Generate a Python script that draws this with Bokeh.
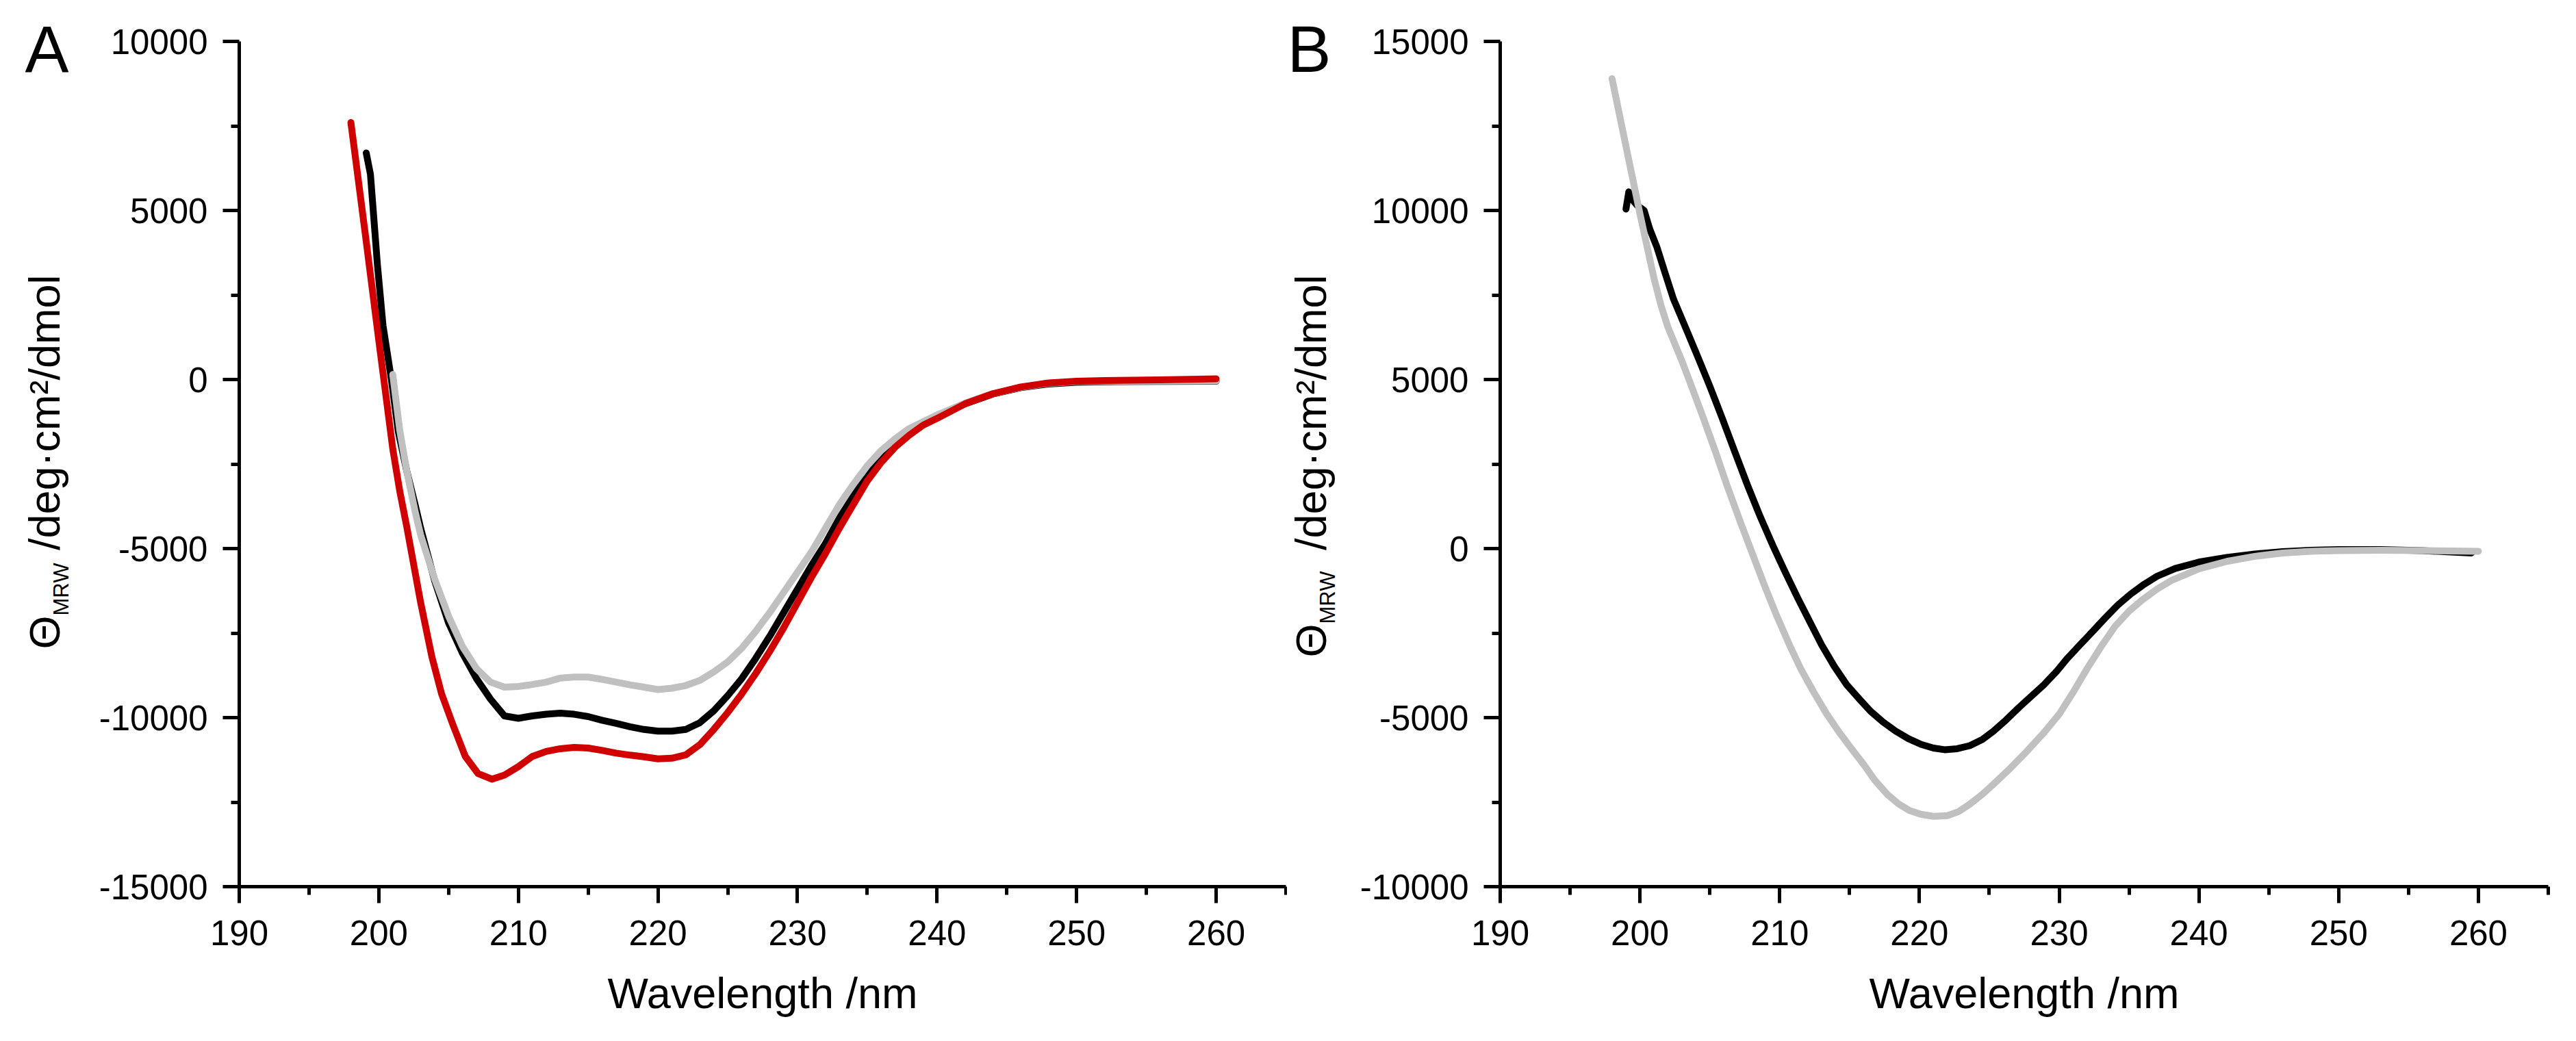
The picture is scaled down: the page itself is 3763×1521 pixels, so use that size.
from bokeh.plotting import figure
from bokeh.models import ColumnDataSource, FixedTicker, Label
from bokeh.layouts import row
from bokeh.embed import file_html
from bokeh.resources import INLINE

# ---------------- data ----------------
x_ticks = [190, 200, 210, 220, 230, 240, 250, 260]
x_minor = [195, 205, 215, 225, 235, 245, 255, 265]

a_y_ticks = [-15000, -10000, -5000, 0, 5000, 10000]
a_y_labels = ["-15000", "-10000", "-5000", "0", "5000", "10000"]
a_y_minor = [-12500, -7500, -2500, 2500, 7500]

b_y_ticks = [-10000, -5000, 0, 5000, 10000, 15000]
b_y_labels = ["-10000", "-5000", "0", "5000", "10000", "15000"]
b_y_minor = [-7500, -2500, 2500, 7500, 12500]

x_title = "Wavelength /nm"
y_title_symbol = "\u0398"
y_title_sub = "MRW"
y_title_unit = "/deg\u00b7cm\u00b2/dmol"

# Panel A
a_black_x = [199.1, 199.4, 199.9, 200.3, 200.9, 201.4, 202.0, 202.6, 203.0, 204.0, 205.0,
             206.0, 207.0, 208.0, 209.0, 210.0, 211.0, 212.0, 213.0, 214.0, 215.0, 216.0,
             217.0, 218.0, 219.0, 220.0, 221.0, 222.0, 223.0, 224.0, 225.0, 226.0, 227.0,
             228.0, 229.0, 230.0, 231.0, 232.0, 233.0, 234.0, 235.0, 236.0, 237.0, 238.0,
             239.0, 240.0, 242.0, 244.0, 246.0, 248.0, 250.0, 253.0, 256.0, 260.0]
a_black_y = [6700, 6070, 3400, 1600, 0, -1550, -2700, -3700, -4400, -5950, -7200,
             -8100, -8850, -9450, -9950, -10020, -9950, -9900, -9870, -9900, -9970, -10080,
             -10170, -10270, -10350, -10400, -10400, -10350, -10150, -9800, -9350, -8850, -8250,
             -7600, -6900, -6200, -5500, -4850, -4100, -3450, -2850, -2350, -1900, -1550,
             -1300, -1100, -720, -430, -240, -130, -80, -60, -55, -50]

a_gray_x = [201.0, 201.5, 202.0, 202.6, 203.0, 204.0, 205.0, 206.0, 207.0, 208.0, 209.0,
            210.0, 211.0, 212.0, 213.0, 214.0, 215.0, 216.0, 217.0, 218.0, 219.0, 220.0,
            221.0, 222.0, 223.0, 224.0, 225.0, 226.0, 227.0, 228.0, 229.0, 230.0, 231.0,
            232.0, 233.0, 234.0, 235.0, 236.0, 237.0, 238.0, 239.0, 240.0, 242.0, 244.0,
            246.0, 248.0, 250.0, 253.0, 256.0, 260.0]
a_gray_y = [150, -1500, -2700, -3900, -4600, -5900, -7000, -7900, -8550, -8950, -9100,
            -9080, -9020, -8950, -8830, -8800, -8800, -8870, -8950, -9030, -9100, -9170,
            -9130, -9050, -8900, -8650, -8350, -7950, -7450, -6900, -6300, -5700, -5100,
            -4400, -3700, -3100, -2550, -2100, -1750, -1450, -1250, -1050, -700, -420,
            -230, -110, -60, -50, -45, -40]

a_red_x = [198.0, 199.0, 200.0, 200.5, 201.0, 201.5, 202.0, 202.6, 203.0, 203.8, 204.5,
           205.3, 206.2, 207.1, 208.1, 209.0, 210.0, 211.0, 212.0, 213.0, 214.0, 215.0,
           216.0, 217.0, 218.0, 219.0, 220.0, 221.0, 222.0, 223.0, 224.0, 225.0, 226.0,
           227.0, 228.0, 229.0, 230.0, 231.0, 232.0, 233.0, 234.0, 235.0, 236.0, 237.0,
           238.0, 239.0, 240.0, 242.0, 244.0, 246.0, 248.0, 250.0, 252.0, 256.0, 260.0]
a_red_y = [7600, 4400, 1150, -450, -2050, -3300, -4350, -5700, -6600, -8200, -9300,
           -10200, -11150, -11650, -11820, -11700, -11450, -11150, -11000, -10920, -10880, -10900,
           -10970, -11050, -11110, -11160, -11220, -11200, -11100, -10800, -10350, -9850, -9300,
           -8700, -8050, -7350, -6600, -5850, -5150, -4400, -3700, -3000, -2450, -2000,
           -1650, -1350, -1150, -720, -420, -220, -100, -50, -30, -10, 20]

# Panel B
b_black_x = [199.0, 199.2, 199.4, 199.8, 200.3, 200.7, 201.2, 201.8, 202.4, 203.3, 204.2,
             205.0, 205.9, 206.8, 207.7, 208.6, 209.5, 210.4, 211.3, 212.2, 213.0, 213.9,
             214.8, 215.7, 216.5, 217.4, 218.3, 219.2, 220.1, 221.0, 221.8, 222.7, 223.6,
             224.5, 225.3, 226.2, 227.1, 228.0, 228.9, 229.8, 230.6, 231.5, 232.4, 233.3,
             234.2, 235.1, 236.0, 237.0, 238.3, 240.0, 242.0, 244.0, 246.0, 248.0, 250.0,
             253.0, 256.0, 259.5]
b_black_y = [10040, 10550, 10350, 10150, 10000, 9450, 8930, 8150, 7380, 6500, 5610,
             4800, 3840, 2850, 1870, 950, 100, -700, -1470, -2200, -2850, -3480,
             -4030, -4450, -4810, -5130, -5400, -5620, -5790, -5900, -5950, -5920, -5830,
             -5650, -5400, -5070, -4710, -4370, -4030, -3640, -3240, -2840, -2450, -2050,
             -1670, -1350, -1080, -820, -590, -400, -260, -160, -90, -50, -30,
             -30, -60, -130]

b_gray_x = [198.0, 198.5, 199.0, 199.5, 200.0, 200.5, 201.0, 201.5, 202.0, 202.5, 203.0,
            203.6, 204.5, 205.4, 206.2, 207.1, 208.0, 208.9, 209.8, 210.7, 211.5, 212.4,
            213.3, 214.2, 215.1, 216.0, 216.8, 217.7, 218.5, 219.3, 220.1, 221.0, 222.0,
            222.8, 223.6, 224.5, 225.3, 226.5, 227.7, 228.9, 230.0, 231.0, 232.0, 233.0,
            234.0, 235.0, 236.0, 237.0, 238.0, 240.0, 242.0, 244.0, 246.0, 248.0, 250.0,
            253.0, 256.0, 260.0]
b_gray_y = [13900, 12900, 11900, 10900, 9900, 8950, 8000, 7200, 6550, 6050, 5550,
            4900, 3900, 2870, 1900, 880, -100, -1080, -2000, -2850, -3550, -4220,
            -4850, -5400, -5900, -6380, -6850, -7270, -7550, -7750, -7860, -7920, -7900,
            -7780, -7560, -7270, -6970, -6500, -5990, -5450, -4900, -4250, -3550, -2900,
            -2300, -1850, -1500, -1200, -950, -600, -380, -230, -130, -80, -60,
            -50, -60, -80]

BLACK = "#000000"
GRAY = "#C0C0C0"
RED = "#D10000"
FONT = "Liberation Sans"

BOTTOM = 218      # border below the frame (x axis + title)
TOP_GAP = 60      # pixels between canvas top and the top tick of the y axis
FRAME_H = 1295    # frame spans from the canvas top down to the x-axis line
H = FRAME_H + BOTTOM
AXIS_H = FRAME_H - TOP_GAP
SHIFT = 0.37      # em offset between Label anchor and drawn glyph baseline


def make_strip(width, letter, letter_x, base_x, theta_y, sub_y, unit_y):
    """Narrow text-only figure holding the panel letter and the y-axis title.
    Data units are pixels: x from the strip's left edge, y up from the x-axis line."""
    s = figure(width=width, height=H, x_range=(0, width), y_range=(0, FRAME_H),
               x_axis_type=None, y_axis_type=None, output_backend="svg",
               toolbar_location=None, min_border_left=0, min_border_right=0,
               min_border_top=0, min_border_bottom=BOTTOM)
    s.outline_line_color = None
    s.xgrid.visible = False
    s.ygrid.visible = False
    s.add_layout(Label(x=letter_x, y=1188 + SHIFT * 96, text=letter, text_font=FONT,
                       text_font_size="96px", text_color="black",
                       text_align="left", text_baseline="alphabetic"))
    rot = dict(text_font=FONT, text_color="black", angle=90, angle_units="deg",
               text_align="left", text_baseline="alphabetic")
    s.add_layout(Label(x=base_x - SHIFT * 63, y=theta_y, text=y_title_symbol,
                       text_font_size="63px", **rot))
    s.add_layout(Label(x=base_x + 12 - SHIFT * 31, y=sub_y, text=y_title_sub,
                       text_font_size="31px", **rot))
    s.add_layout(Label(x=base_x - SHIFT * 63, y=unit_y, text=y_title_unit,
                       text_font_size="63px", **rot))
    return s


def make_panel(width, border_left, border_right, y_ticks, y_labels, y_minor, curves):
    y0, y1 = y_ticks[0], y_ticks[-1]
    y_top = y1 + (y1 - y0) * TOP_GAP / AXIS_H
    p = figure(width=width, height=H, x_range=(190, 265), y_range=(y0, y_top),
               output_backend="svg", toolbar_location=None,
               min_border_left=border_left, min_border_right=border_right,
               min_border_top=0, min_border_bottom=BOTTOM)
    p.outline_line_color = None
    p.xgrid.visible = False
    p.ygrid.visible = False

    p.xaxis.ticker = FixedTicker(ticks=x_ticks, minor_ticks=x_minor)
    p.yaxis.ticker = FixedTicker(ticks=y_ticks, minor_ticks=y_minor)
    p.yaxis.bounds = (y0, y1)
    p.yaxis.major_label_overrides = {t: s for t, s in zip(y_ticks, y_labels)}

    for ax in (p.xaxis[0], p.yaxis[0]):
        ax.axis_line_width = 5
        ax.axis_line_color = "black"
        ax.major_tick_line_width = 5
        ax.minor_tick_line_width = 5
        ax.major_tick_line_color = "black"
        ax.minor_tick_line_color = "black"
        ax.major_tick_out = 24
        ax.major_tick_in = 0
        ax.minor_tick_out = 12
        ax.minor_tick_in = 0
        ax.major_label_text_font = FONT
        ax.major_label_text_font_size = "51px"
        ax.major_label_text_color = "black"

    p.xaxis.major_label_standoff = 25
    p.yaxis.major_label_standoff = 22
    p.xaxis.axis_label = x_title
    p.xaxis.axis_label_text_font = FONT
    p.xaxis.axis_label_text_font_size = "63px"
    p.xaxis.axis_label_text_font_style = "normal"
    p.xaxis.axis_label_text_color = "black"
    p.xaxis.axis_label_standoff = 32

    for xs, ys, col in curves:
        src = ColumnDataSource(data=dict(x=xs, y=ys))
        p.line("x", "y", source=src, line_color=col, line_width=10,
               line_join="round", line_cap="round")
    return p


# page x: strip A 0-130, panel A 130-1880, strip B 1880-1975, panel B 1975-3755
stripA = make_strip(130, "A", 36, 88, 347, 396, 491.5)
pA = make_panel(1750, 219, 2, a_y_ticks, a_y_labels, a_y_minor,
                [(a_black_x, a_black_y, BLACK), (a_gray_x, a_gray_y, GRAY),
                 (a_red_x, a_red_y, RED)])
stripB = make_strip(95, "B", 0, 58, 335, 384, 491.5)
pB = make_panel(1780, 216, 33, b_y_ticks, b_y_labels, b_y_minor,
                [(b_black_x, b_black_y, BLACK), (b_gray_x, b_gray_y, GRAY)])

layout = row(stripA, pA, stripB, pB)
open("out.html", "w").write(file_html(layout, INLINE))
